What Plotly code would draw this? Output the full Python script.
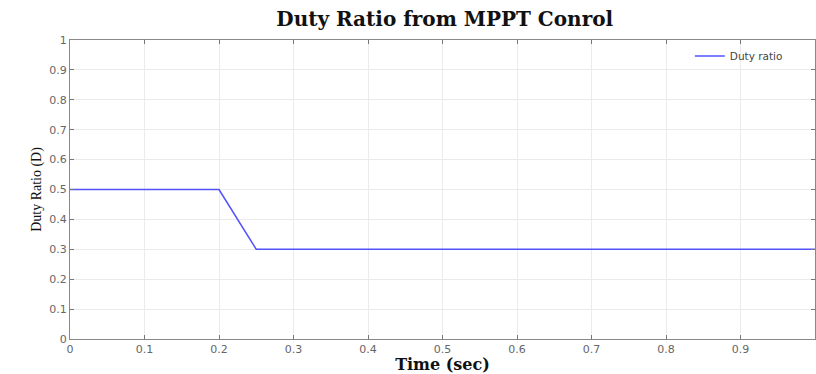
import plotly.graph_objects as go

time_s = [0.0, 0.2, 0.25, 1.0]
duty = [0.5, 0.5, 0.3, 0.3]
x_ticks = [0, 0.1, 0.2, 0.3, 0.4, 0.5, 0.6, 0.7, 0.8, 0.9]
x_labels = ["0", "0.1", "0.2", "0.3", "0.4", "0.5", "0.6", "0.7", "0.8", "0.9"]
y_ticks = [0, 0.1, 0.2, 0.3, 0.4, 0.5, 0.6, 0.7, 0.8, 0.9, 1]
y_labels = ["0", "0.1", "0.2", "0.3", "0.4", "0.5", "0.6", "0.7", "0.8", "0.9", "1"]

fig = go.Figure()
fig.add_trace(go.Scatter(x=time_s, y=duty, mode="lines", name="Duty ratio",
                         line=dict(color="#5252ff", width=1.6)))

fig.update_layout(
    width=816, height=374,
    margin=dict(l=70, r=1, t=40, b=35),
    paper_bgcolor="white", plot_bgcolor="white",
    title=dict(text="<b>Duty Ratio from MPPT Conrol</b>", x=0.545, xanchor="center",
               y=1 - 19/374, yanchor="middle",
               font=dict(family="DejaVu Serif", size=20, color="#111")),
    showlegend=True,
    legend=dict(x=0.832, y=0.995, xanchor="left", yanchor="top",
                bgcolor="rgba(0,0,0,0)", font=dict(family="DejaVu Sans", size=10.5, color="#444")),
    font=dict(family="DejaVu Sans", size=11, color="#666"),
)
fig.update_xaxes(range=[0, 1], tickvals=x_ticks, ticktext=x_labels,
                 showgrid=True, gridcolor="#ebebeb", zeroline=False,
                 showline=True, linecolor="#888", mirror="ticks",
                 ticks="inside", ticklen=4, tickcolor="#777",
                 title=dict(text="<b>Time (sec)</b>", standoff=2,
                            font=dict(family="DejaVu Serif", size=16, color="#111")))
fig.update_yaxes(range=[0, 1], tickvals=y_ticks, ticktext=y_labels,
                 showgrid=True, gridcolor="#ebebeb", zeroline=False,
                 showline=True, linecolor="#888", mirror="ticks",
                 ticks="inside", ticklen=4, tickcolor="#777",
                 title=dict(text="Duty Ratio (D)", standoff=4,
                            font=dict(family="Liberation Serif", size=14, color="#111")))
fig.write_html("out.html")
